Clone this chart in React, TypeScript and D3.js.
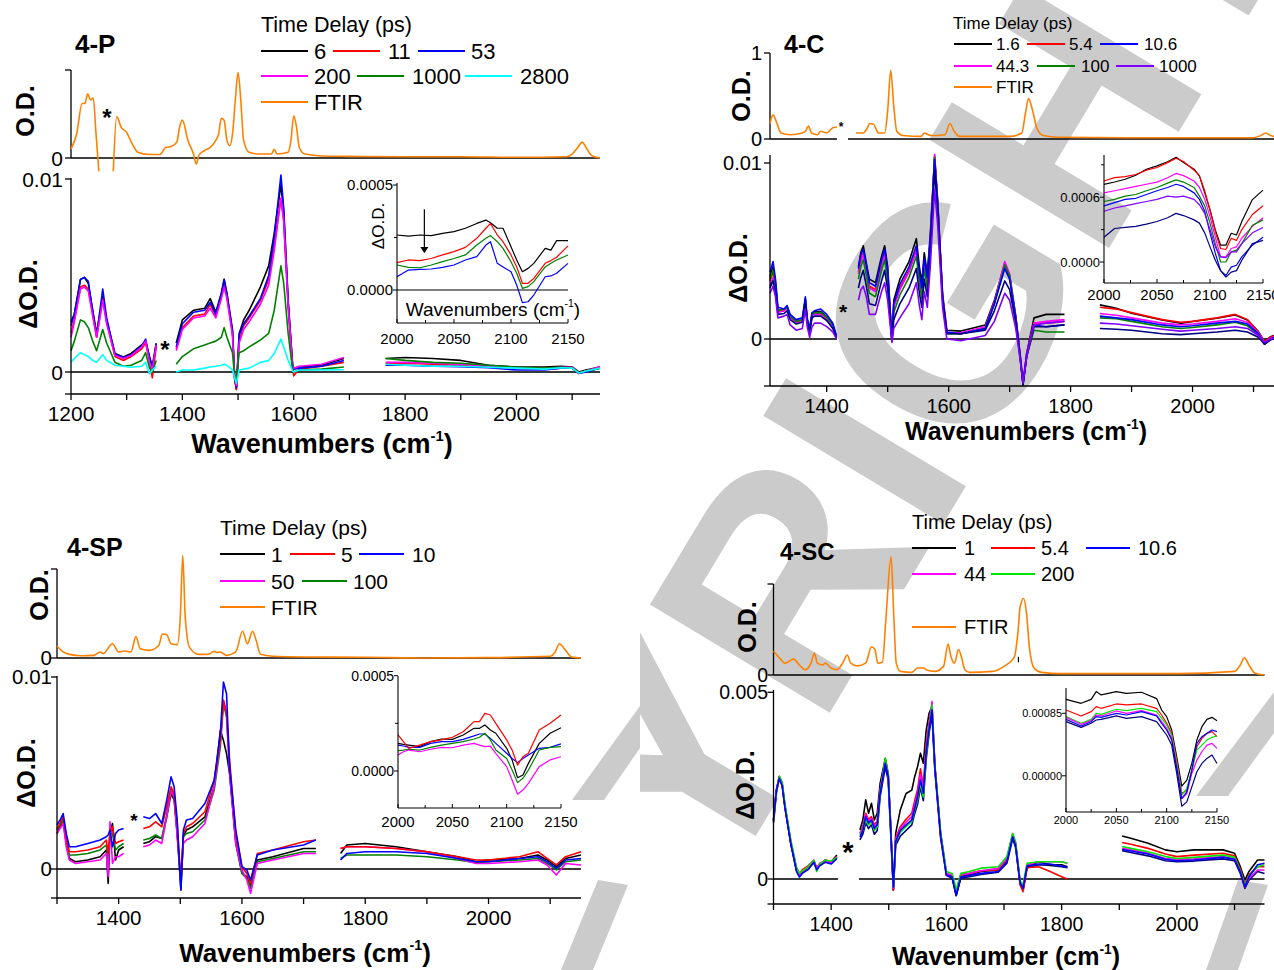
import React from "react";
import * as d3 from "d3";

const SANS = "'Liberation Sans', Arial, Helvetica, sans-serif";
const BLACK = "#000000";
const RED = "#ff0000";
const BLUE = "#0000ff";
const MAGENTA = "#ff00ff";
const GREEN = "#008000";
const LIME = "#00e600";
const CYAN = "#00ffff";
const PURPLE = "#8000ff";
const NAVY = "#000080";
const ORANGE = "#ff8000";
const WM_GRAY = "#cbcbcb";

// ---------------- 4-P ----------------
// FTIR (O.D., scaled to the top tick)
const P_FTIR_X1 = [1200, 1210, 1220, 1225, 1230, 1235, 1240, 1245, 1250];
const P_FTIR_Y1 = [0.1, 0.27, 0.62, 0.62, 0.73, 0.66, 0.68, 0.27, -0.15];
const P_FTIR_X2 = [1276, 1282, 1290, 1300, 1310, 1320, 1340, 1360, 1370, 1380, 1390, 1395, 1400, 1410, 1420, 1425, 1430, 1440, 1450, 1460, 1465, 1470, 1475, 1480, 1485, 1490, 1495, 1500, 1505, 1510, 1520, 1540, 1560, 1565, 1570, 1590, 1595, 1600, 1605, 1610, 1620, 1650, 1700, 1800, 1900, 2000, 2090, 2100, 2110, 2118, 2125, 2135, 2150];
const P_FTIR_Y2 = [-0.15, 0.47, 0.35, 0.29, 0.16, 0.065, 0.04, 0.04, 0.12, 0.13, 0.18, 0.35, 0.43, 0.2, 0.045, -0.07, 0.035, 0.085, 0.12, 0.2, 0.27, 0.45, 0.43, 0.2, 0.14, 0.27, 0.65, 0.97, 0.65, 0.2, 0.065, 0.045, 0.045, 0.1, 0.045, 0.065, 0.2, 0.48, 0.35, 0.12, 0.045, 0.023, 0.019, 0.015, 0.015, 0.008, 0.015, 0.045, 0.12, 0.18, 0.12, 0.027, 0.0];

// transient spectra (mOD)
const P_X1 = [1200, 1206, 1217, 1224, 1231, 1239, 1246, 1257, 1264, 1279, 1294, 1308, 1327, 1334, 1341, 1346, 1353];
const P_X2 = [1389, 1400, 1420, 1440, 1450, 1460, 1470, 1475, 1480, 1490, 1494, 1497, 1502, 1510, 1520, 1540, 1555, 1565, 1577, 1582, 1590, 1598, 1600, 1610, 1650, 1690];
const P_X3 = [1765, 1800, 1850, 1900, 1950, 2000, 2050, 2080, 2100, 2112, 2125, 2150];

const P_6_A = [2.6, 3.0, 4.8, 4.9, 4.6, 3.2, 2.0, 3.9, 2.7, 0.96, 0.78, 0.96, 1.4, 1.6, 0.8, 0.3, 1.5];
const P_6_B = [1.5, 2.7, 3.2, 3.3, 3.8, 3.1, 4.1, 4.8, 4.1, 2.2, -0.4, -0.9, 2.0, 2.7, 3.2, 4.4, 5.5, 7.2, 9.7, 8.3, 3.7, 0.4, 0.2, 0.26, 0.35, 0.7];
const P_6_C = [0.7, 0.75, 0.7, 0.6, 0.35, 0.26, 0.26, 0.3, 0.26, 0.0, 0.1, 0.26];
const P_11_A = [2.0, 2.7, 4.4, 4.5, 4.3, 3.0, 1.8, 3.8, 2.6, 0.8, 0.6, 0.8, 1.2, 1.5, 0.6, -0.3, 1.3];
const P_11_B = [1.2, 2.3, 2.9, 3.0, 3.5, 2.9, 3.9, 4.6, 3.9, 2.0, -0.4, -0.9, 1.6, 2.4, 2.8, 3.7, 4.8, 6.6, 9.0, 7.8, 3.4, 0.2, -0.2, 0.15, 0.3, 0.5];
const P_11_C = [0.45, 0.45, 0.4, 0.35, 0.3, 0.2, 0.15, 0.2, 0.22, -0.05, 0.05, 0.25];
const P_53_A = [2.4, 3.0, 4.8, 4.9, 4.7, 3.1, 1.9, 4.3, 2.8, 0.9, 0.75, 0.9, 1.35, 1.7, 0.7, 0.2, 1.45];
const P_53_B = [1.3, 2.5, 3.1, 3.2, 3.6, 3.0, 4.0, 4.8, 4.0, 2.1, -0.3, -0.8, 1.9, 2.5, 2.9, 3.8, 5.0, 7.0, 10.2, 8.5, 3.6, 0.3, 0.15, 0.2, 0.3, 0.6];
const P_53_C = [0.35, 0.35, 0.3, 0.28, 0.22, 0.1, 0.1, 0.2, 0.2, -0.08, 0.0, 0.2];
const P_200_A = [1.8, 2.6, 4.3, 4.4, 4.2, 2.9, 1.8, 3.7, 2.5, 0.85, 0.7, 0.85, 1.3, 1.6, 0.5, 0.1, 1.4];
const P_200_B = [1.1, 2.2, 2.8, 2.9, 3.3, 2.8, 3.8, 4.4, 3.8, 1.9, -0.3, -0.7, 1.5, 2.2, 2.6, 3.5, 4.5, 6.3, 9.0, 7.9, 3.4, 0.3, 0.2, 0.3, 0.4, 0.75];
const P_200_C = [0.5, 0.5, 0.45, 0.4, 0.3, 0.22, 0.18, 0.25, 0.25, -0.05, 0.05, 0.28];
const P_1000_A = [1.1, 1.6, 2.7, 2.6, 2.3, 1.6, 1.1, 2.2, 1.5, 0.5, 0.3, 0.35, 0.6, 1.0, 0.2, 0.0, 0.6];
const P_1000_B = [0.4, 0.8, 1.2, 1.4, 1.5, 1.6, 1.8, 2.3, 1.8, 1.0, -0.3, -0.4, 1.0, 1.1, 1.3, 1.65, 2.0, 3.2, 5.5, 4.6, 2.0, 0.1, 0.0, 0.1, 0.15, 0.26];
const P_1000_C = [0.7, 0.6, 0.5, 0.45, 0.35, 0.25, 0.2, 0.25, 0.2, -0.05, 0.05, 0.2];
const P_2800_A = [0.5, 0.7, 1.0, 0.9, 0.8, 0.6, 0.5, 0.9, 0.6, 0.35, 0.3, 0.25, 0.3, 0.5, -0.1, 0.1, 0.3];
const P_2800_B = [0.0, 0.1, 0.1, 0.2, 0.26, 0.3, 0.35, 0.4, 0.35, 0.1, -0.3, -0.6, 0.1, 0.15, 0.2, 0.5, 0.6, 0.96, 1.7, 1.3, 0.6, 0.05, 0.0, 0.1, 0.1, 0.12];
const P_2800_C = [0.4, 0.35, 0.3, 0.3, 0.25, 0.2, 0.15, 0.22, 0.2, -0.05, 0.05, 0.2];

// inset (1e-4 O.D.)
const P_IN_X = [2000, 2010, 2020, 2030, 2040, 2050, 2060, 2070, 2078, 2082, 2088, 2093, 2100, 2105, 2110, 2115, 2120, 2130, 2135, 2140, 2150];
const P_IN_6 = [2.62, 2.57, 2.62, 2.59, 2.7, 2.78, 2.94, 3.17, 3.33, 3.2, 2.94, 2.94, 2.06, 1.43, 0.87, 1.03, 1.27, 1.98, 1.9, 2.35, 2.35];
const P_IN_11 = [1.3, 1.43, 1.4, 1.5, 1.67, 1.83, 2.03, 2.46, 2.94, 3.17, 2.62, 2.3, 1.67, 1.1, 0.32, 0.32, 0.55, 1.27, 1.4, 1.56, 2.1];
const P_IN_1000 = [1.19, 1.08, 1.06, 1.19, 1.35, 1.5, 1.67, 2.14, 2.46, 2.59, 2.3, 1.98, 1.35, 0.8, 0.08, 0.16, 0.4, 1.1, 1.27, 1.43, 1.67];
const P_IN_53 = [0.63, 0.95, 0.98, 1.0, 1.08, 1.19, 1.43, 1.59, 2.14, 2.3, 1.27, 1.1, 0.87, 0.24, -0.6, -0.56, -0.24, 0.63, 0.67, 0.8, 1.27];

// ---------------- 4-C ----------------
const C_FTIR_X1 = [1307, 1312, 1318, 1325, 1340, 1360, 1366, 1370, 1375, 1385, 1390, 1400, 1410, 1417];
const C_FTIR_Y1 = [0.18, 0.28, 0.19, 0.07, 0.05, 0.07, 0.1, 0.15, 0.07, 0.05, 0.09, 0.07, 0.13, 0.14];
const C_FTIR_X2 = [1448, 1460, 1466, 1471, 1477, 1485, 1495, 1500, 1505, 1510, 1515, 1525, 1555, 1560, 1570, 1594, 1602, 1609, 1618, 1700, 1720, 1726, 1731, 1737, 1745, 1755, 1780, 1900, 2100, 2112, 2120, 2128, 2150];
const C_FTIR_Y2 = [0.07, 0.07, 0.12, 0.18, 0.17, 0.07, 0.07, 0.33, 0.8, 0.38, 0.09, 0.04, 0.03, 0.07, 0.04, 0.05, 0.18, 0.09, 0.03, 0.03, 0.07, 0.3, 0.47, 0.35, 0.12, 0.04, 0.02, 0.015, 0.015, 0.04, 0.07, 0.04, 0.01];

const C_X1 = [1307, 1312, 1316, 1320, 1330, 1335, 1340, 1350, 1360, 1365, 1368, 1372, 1376, 1380, 1390, 1400, 1410, 1416];
const C_X2 = [1452, 1456, 1460, 1465, 1470, 1480, 1490, 1495, 1500, 1507, 1510, 1520, 1535, 1547, 1552, 1556, 1560, 1565, 1570, 1577, 1582, 1590, 1597, 1620, 1660, 1675, 1692, 1700, 1710, 1717, 1722, 1728, 1740, 1760, 1790];
const C_X3 = [1848, 1875, 1900, 1950, 1980, 2000, 2040, 2070, 2090, 2108, 2118, 2128, 2150];

const C_1_6_A = [3.55, 4.12, 3.17, 1.65, 1.65, 1.84, 1.27, 0.99, 1.08, 2.22, 1.08, 0.51, 1.46, 1.56, 1.56, 1.27, 0.8, 0.13];
const C_1_6_B = [4.1, 4.9, 5.3, 4.3, 3.4, 3.2, 4.7, 5.3, 4.1, -0.1, 2.2, 3.4, 4.4, 5.7, 4.1, 3.2, 4.9, 3.7, 6.0, 10.4, 7.9, 2.6, 0.5, 0.45, 0.8, 2.2, 4.3, 3.6, 1.3, -0.8, -2.5, -0.8, 1.2, 1.4, 1.4];
const C_1_6_C = [1.94, 1.75, 1.46, 1.08, 0.89, 0.99, 1.18, 1.37, 1.08, 0.42, -0.15, 0.13, 0.42];
const C_5_4_A = [3.3, 3.8, 3.0, 1.6, 1.6, 1.8, 1.2, 0.95, 1.05, 2.1, 1.0, 0.5, 1.35, 1.45, 1.45, 1.2, 0.75, 0.1];
const C_5_4_B = [3.8, 4.5, 4.9, 4.0, 3.0, 2.8, 4.3, 4.9, 3.7, -0.1, 1.9, 2.9, 3.9, 5.1, 3.6, 2.7, 4.4, 3.3, 5.6, 10.2, 7.6, 2.4, 0.35, 0.3, 0.6, 2.0, 4.2, 3.5, 1.2, -0.9, -2.5, -0.9, 0.9, 0.9, 1.0];
const C_5_4_C = [1.8, 1.7, 1.5, 1.1, 0.95, 1.0, 1.2, 1.4, 1.1, 0.4, -0.15, 0.1, 0.4];
const C_10_6_A = [3.8, 4.4, 3.4, 1.8, 1.7, 1.9, 1.4, 1.1, 1.2, 2.4, 1.2, 0.6, 1.5, 1.6, 1.7, 1.4, 0.9, 0.2];
const C_10_6_B = [4.0, 4.8, 5.1, 4.2, 3.2, 3.0, 4.5, 5.1, 3.9, -0.1, 2.0, 3.1, 4.1, 5.3, 3.8, 2.9, 4.6, 3.5, 5.8, 10.2, 7.7, 2.4, 0.4, 0.3, 0.6, 2.0, 4.0, 3.4, 1.2, -0.9, -2.6, -0.9, 0.8, 0.7, 0.8];
const C_10_6_C = [1.3, 1.2, 1.1, 0.8, 0.7, 0.75, 0.9, 1.0, 0.85, 0.3, -0.3, 0.0, 0.3];
const C_44_A = [3.0, 3.5, 2.8, 1.5, 1.6, 1.75, 1.2, 0.9, 1.0, 2.2, 1.0, 0.45, 1.3, 1.4, 1.4, 1.1, 0.7, 0.1];
const C_44_B = [3.7, 4.4, 4.8, 3.9, 2.9, 2.7, 4.2, 4.8, 3.6, -0.1, 1.8, 2.8, 3.8, 5.0, 3.5, 2.6, 4.3, 3.2, 5.5, 10.5, 7.7, 2.4, 0.35, 0.35, 0.7, 2.1, 4.4, 3.7, 1.3, -0.8, -2.5, -0.8, 0.9, 1.0, 1.1];
const C_44_C = [1.45, 1.35, 1.2, 0.9, 0.8, 0.85, 1.0, 1.15, 0.95, 0.35, -0.2, 0.05, 0.35];
const C_100_A = [3.4, 3.9, 3.1, 1.6, 1.7, 1.8, 1.3, 1.0, 1.1, 2.3, 1.1, 0.55, 1.4, 1.5, 1.5, 1.25, 0.8, 0.15];
const C_100_B = [3.4, 4.1, 4.5, 3.6, 2.6, 2.4, 3.9, 4.5, 3.3, -0.1, 1.5, 2.5, 3.5, 4.7, 3.2, 2.3, 4.0, 2.9, 5.3, 10.3, 7.6, 2.3, 0.3, 0.3, 0.6, 2.0, 4.2, 3.6, 1.2, -0.9, -2.6, -1.0, 0.5, 0.4, 0.4];
const C_100_C = [1.2, 1.15, 1.0, 0.7, 0.6, 0.65, 0.8, 0.95, 0.75, 0.25, -0.25, 0.0, 0.25];
const C_1000_A = [2.6, 3.0, 2.4, 1.2, 1.3, 1.4, 0.8, 0.5, 0.6, 1.7, 0.7, 0.1, 0.7, 0.9, 0.9, 0.7, 0.4, 0.0];
const C_1000_B = [2.2, 2.8, 3.0, 2.4, 1.4, 1.4, 2.7, 3.2, 2.2, -0.2, 0.6, 1.2, 2.0, 3.2, 1.9, 1.1, 2.7, 1.8, 4.2, 8.5, 6.5, 1.8, 0.0, -0.1, 0.2, 1.0, 2.6, 2.2, 0.6, -1.1, -2.5, -1.0, 0.8, 0.9, 1.0];
const C_1000_C = [0.9, 0.85, 0.75, 0.55, 0.45, 0.5, 0.6, 0.7, 0.6, 0.2, -0.2, 0.0, 0.2];
const C_NAVY_A = [2.9, 3.3, 2.6, 1.4, 1.45, 1.6, 1.1, 0.85, 0.95, 2.0, 0.95, 0.4, 1.2, 1.3, 1.3, 1.05, 0.6, 0.05];
const C_NAVY_B = [2.9, 3.5, 3.9, 3.0, 2.0, 1.9, 3.3, 3.9, 2.8, -0.1, 1.1, 2.0, 2.9, 4.0, 2.6, 1.8, 3.4, 2.4, 4.8, 9.6, 7.2, 2.2, 0.3, 0.3, 0.5, 1.6, 3.3, 2.8, 0.9, -1.0, -2.6, -1.0, 0.7, 0.7, 0.8];
const C_NAVY_C = [0.6, 0.55, 0.5, 0.3, 0.25, 0.3, 0.4, 0.5, 0.4, 0.1, -0.3, -0.05, 0.15];

const C_IN_X = [2000, 2010, 2020, 2030, 2040, 2050, 2060, 2068, 2075, 2085, 2090, 2095, 2100, 2105, 2110, 2115, 2120, 2125, 2130, 2140, 2150];
const C_IN_1_6 = [7.19, 7.41, 7.66, 8.03, 8.59, 8.9, 9.28, 9.69, 9.22, 8.59, 7.97, 6.4, 4.84, 2.97, 1.56, 1.56, 2.66, 2.5, 3.75, 5.78, 6.66];
const C_IN_5_4 = [7.5, 7.81, 7.9, 8.1, 8.5, 8.75, 9.2, 9.6, 9.3, 8.5, 8.0, 6.6, 4.8, 2.8, 1.25, 1.16, 2.2, 2.0, 3.0, 4.4, 5.2];
const C_IN_44 = [6.4, 6.6, 6.8, 7.0, 7.2, 7.4, 7.8, 8.2, 8.0, 7.5, 6.9, 5.8, 4.2, 2.3, 0.47, 0.47, 1.25, 1.4, 2.2, 3.3, 4.1];
const C_IN_100 = [5.6, 5.8, 6.1, 6.25, 6.6, 6.9, 7.3, 7.6, 7.4, 6.9, 6.1, 5.2, 3.6, 1.7, 0, 0, 0.94, 1.1, 1.7, 3.4, 3.9];
const C_IN_10_6 = [5.2, 5.5, 5.8, 5.9, 6.25, 6.6, 6.9, 7.2, 7.0, 6.4, 5.8, 4.7, 2.7, 0.8, -0.8, -1.25, -0.47, -0.3, 0.47, 1.56, 2.3];
const C_IN_1000 = [4.7, 5.0, 5.2, 5.4, 5.6, 5.8, 6.1, 6.0, 6.1, 5.8, 5.3, 4.5, 3.0, 1.4, 0.47, 0.4, 0.94, 0.94, 1.7, 2.7, 3.2];
const C_IN_NAVY = [2.3, 3.1, 3.2, 3.3, 3.5, 3.75, 4.1, 4.5, 4.3, 3.9, 3.6, 2.7, 1.4, 0.16, -0.8, -1.4, -0.94, -0.8, 0.16, 1.7, 2.0];

// ---------------- 4-SP ----------------
const SP_FTIR_X = [1300, 1310, 1320, 1340, 1360, 1370, 1375, 1390, 1400, 1410, 1420, 1428, 1435, 1450, 1465, 1471, 1478, 1485, 1495, 1500, 1504, 1508, 1515, 1530, 1545, 1555, 1560, 1565, 1575, 1590, 1601, 1609, 1617, 1623, 1630, 1650, 1700, 1800, 1900, 2000, 2100, 2108, 2115, 2125, 2135, 2150];
const SP_FTIR_Y = [0.135, 0.068, 0.041, 0.026, 0.03, 0.068, 0.05, 0.16, 0.068, 0.079, 0.068, 0.24, 0.105, 0.086, 0.14, 0.27, 0.26, 0.16, 0.15, 0.46, 1.15, 0.46, 0.12, 0.041, 0.041, 0.075, 0.06, 0.068, 0.03, 0.068, 0.3, 0.16, 0.3, 0.2, 0.041, 0.019, 0.011, 0.008, 0.0, 0.004, 0.019, 0.068, 0.16, 0.086, 0.011, 0.0];

const SP_X1 = [1300, 1305, 1310, 1315, 1320, 1330, 1350, 1370, 1380, 1383, 1386, 1390, 1395, 1400, 1408];
const SP_X2 = [1440, 1450, 1460, 1470, 1478, 1485, 1490, 1495, 1501, 1505, 1510, 1520, 1540, 1555, 1565, 1570, 1575, 1580, 1590, 1600, 1608, 1614, 1625, 1650, 1700, 1720];
const SP_X3 = [1760, 1770, 1800, 1850, 1900, 1950, 1980, 2000, 2050, 2080, 2095, 2110, 2125, 2150];

const SP_1_A = [1.85, 2.2, 2.55, 1.33, 0.55, 0.38, 0.47, 0.64, 0.99, -0.75, 1.85, 2.37, 0.47, 0.99, 1.16];
const SP_1_B = [1.33, 1.42, 1.68, 1.59, 2.72, 3.93, 3.59, 1.85, -1.09, 1.68, 2.03, 2.2, 2.72, 4.28, 7.23, 6.7, 6.01, 4.97, 1.33, -0.23, -0.4, -0.92, 0.47, 0.64, 1.07, 1.07];
const SP_1_C = [0.81, 1.25, 1.33, 1.16, 0.9, 0.64, 0.38, 0.47, 0.55, 0.73, 0.47, 0.12, 0.55, 0.73];
const SP_5_A = [2.11, 2.37, 2.72, 1.68, 0.9, 0.9, 0.99, 1.16, 1.51, 0.81, 1.85, 2.2, 1.33, 1.42, 1.51];
const SP_5_B = [2.11, 2.2, 2.46, 2.2, 3.24, 4.28, 3.93, 2.29, -0.75, 1.85, 2.2, 2.37, 2.98, 4.63, 6.7, 8.79, 8.1, 5.67, 1.85, 0.12, -0.23, -0.75, 0.81, 0.99, 1.42, 1.51];
const SP_5_C = [1.07, 1.16, 1.16, 1.07, 0.9, 0.64, 0.47, 0.47, 0.64, 0.9, 0.55, 0.21, 0.64, 0.9];
const SP_10_A = [2.29, 2.55, 2.89, 1.85, 1.16, 1.16, 1.33, 1.51, 1.68, 1.77, 2.03, 1.16, 1.85, 2.03, 2.11];
const SP_10_B = [2.72, 2.63, 2.89, 2.37, 3.59, 4.8, 4.28, 2.55, -1.09, 2.03, 2.55, 2.63, 3.41, 4.63, 7.05, 9.74, 9.13, 5.32, 2.03, 0.12, -0.05, -0.57, 0.73, 0.99, 1.25, 1.51];
const SP_10_C = [0.47, 0.81, 0.9, 0.9, 0.81, 0.55, 0.38, 0.38, 0.55, 0.64, 0.38, 0.03, 0.47, 0.55];
const SP_50_A = [1.85, 2.11, 2.37, 1.16, 0.47, 0.29, 0.38, 0.47, 0.81, -0.4, 2.46, 0.29, 0.64, 0.64, 0.81];
const SP_50_B = [1.16, 1.25, 1.51, 1.33, 2.72, 4.11, 3.76, 1.68, -0.57, 1.33, 1.51, 1.68, 2.37, 4.28, 6.7, 8.79, 8.1, 4.97, 1.33, -0.05, -0.57, -1.27, 0.29, 0.47, 0.81, 0.81];
const SP_50_C = [1.07, 1.16, 1.16, 1.07, 0.9, 0.55, 0.29, 0.29, 0.38, 0.47, 0.21, -0.31, 0.29, 0.21];
const SP_100_A = [2.03, 2.29, 2.55, 1.51, 0.73, 0.73, 0.81, 0.99, 1.25, 0.47, 1.85, 1.85, 0.99, 1.16, 1.33];
const SP_100_B = [1.51, 1.59, 1.77, 1.59, 2.8, 4.19, 3.85, 1.85, -0.83, 1.68, 1.85, 1.94, 2.55, 4.11, 6.36, 8.61, 7.92, 5.15, 1.51, -0.23, -0.49, -1.0, 0.38, 0.55, 0.9, 0.9];
const SP_100_C = [0.55, 0.73, 0.73, 0.73, 0.64, 0.47, 0.33, 0.38, 0.47, 0.55, 0.29, -0.05, 0.38, 0.47];

const SP_IN_X = [2000, 2005, 2010, 2020, 2030, 2040, 2050, 2060, 2070, 2075, 2080, 2085, 2090, 2100, 2105, 2110, 2115, 2120, 2130, 2140, 2150];
const SP_IN_5 = [1.89, 1.54, 1.19, 1.36, 1.54, 1.63, 1.77, 2.06, 2.59, 2.59, 3.02, 2.94, 2.5, 1.63, 1.1, 0.31, 0.75, 0.93, 2.15, 2.5, 2.94];
const SP_IN_1 = [1.45, 1.4, 1.36, 1.28, 1.54, 1.68, 1.66, 1.89, 2.24, 2.24, 2.41, 2.15, 1.98, 1.19, 0.58, -0.35, -0.21, 0.4, 1.45, 1.98, 2.27];
const SP_IN_10 = [1.36, 1.31, 1.24, 1.24, 1.45, 1.54, 1.54, 1.66, 1.84, 1.94, 1.94, 1.71, 1.45, 0.93, 0.66, 0.44, 0.66, 0.84, 1.19, 1.24, 1.42];
const SP_IN_100 = [1.07, 1.1, 1.14, 1.1, 1.24, 1.36, 1.45, 1.54, 1.68, 1.77, 1.98, 1.63, 1.1, 0.66, 0.05, -0.61, -0.38, 0.05, 1.1, 1.24, 1.28];
const SP_IN_50 = [0.84, 1.01, 1.1, 1.01, 1.14, 1.24, 1.22, 1.36, 1.45, 1.36, 1.28, 1.31, 0.93, 0.23, -0.47, -1.22, -1.0, -0.65, 0.23, 0.58, 0.75];

// ---------------- 4-SC ----------------
const SC_FTIR_X = [1300, 1310, 1320, 1335, 1345, 1355, 1365, 1371, 1376, 1385, 1390, 1400, 1410, 1420, 1428, 1434, 1445, 1460, 1470, 1476, 1481, 1489, 1495, 1504, 1509, 1513, 1520, 1540, 1550, 1560, 1565, 1580, 1595, 1603, 1608, 1614, 1621, 1626, 1632, 1640, 1680, 1700, 1718, 1724, 1728, 1734, 1739, 1744, 1752, 1765, 1800, 2000, 2100, 2110, 2117, 2125, 2135, 2152];
const SC_FTIR_Y = [0.26, 0.19, 0.13, 0.175, 0.11, 0.058, 0.13, 0.24, 0.13, 0.11, 0.13, 0.077, 0.058, 0.13, 0.22, 0.13, 0.1, 0.13, 0.31, 0.28, 0.13, 0.14, 0.61, 1.3, 0.61, 0.13, 0.04, 0.029, 0.077, 0.077, 0.058, 0.04, 0.095, 0.34, 0.2, 0.13, 0.28, 0.2, 0.058, 0.029, 0.04, 0.095, 0.2, 0.46, 0.75, 0.84, 0.68, 0.31, 0.077, 0.029, 0.015, 0.015, 0.04, 0.11, 0.19, 0.11, 0.022, 0.0];

const SC_X1 = [1300, 1305, 1310, 1315, 1320, 1330, 1340, 1345, 1350, 1360, 1370, 1375, 1380, 1390, 1400, 1410];
const SC_X2 = [1450, 1455, 1460, 1465, 1470, 1475, 1480, 1485, 1494, 1499, 1503, 1508, 1512, 1520, 1530, 1540, 1545, 1550, 1555, 1560, 1565, 1570, 1575, 1580, 1590, 1600, 1610, 1617, 1625, 1640, 1660, 1690, 1705, 1715, 1720, 1728, 1733, 1740, 1760, 1780, 1800, 1810];
const SC_X3 = [1905, 1920, 1950, 1980, 2000, 2030, 2080, 2100, 2110, 2118, 2125, 2140, 2152];

const SC_1_A = [1.58, 2.38, 2.74, 2.56, 1.94, 0.96, 0.24, 0.11, 0.2, 0.29, 0.46, 0.29, 0.38, 0.51, 0.46, 0.64];
const SC_1_B = [1.31, 1.58, 2.12, 1.76, 2.03, 1.58, 1.76, 2.56, 3.23, 2.83, 1.58, -0.29, 1.22, 1.85, 2.29, 2.38, 2.74, 3.01, 3.37, 3.1, 3.99, 4.44, 4.62, 3.01, 1.22, 0.15, 0.06, -0.43, 0.06, 0.11, 0.2, 0.24, 0.51, 1.18, 0.96, -0.12, -0.29, 0.33, 0.46, 0.38, 0.38, 0.33];
const SC_1_C = [1.15, 1.09, 0.96, 0.78, 0.73, 0.78, 0.78, 0.69, 0.33, -0.03, 0.2, 0.51, 0.51];
const SC_5_4_A = [1.6, 2.4, 2.75, 2.55, 1.95, 1.0, 0.3, 0.15, 0.25, 0.35, 0.5, 0.3, 0.4, 0.5, 0.45, 0.6];
const SC_5_4_B = [1.22, 1.4, 1.76, 1.6, 1.67, 1.45, 1.55, 2.4, 3.19, 2.8, 1.5, -0.3, 1.1, 1.4, 1.6, 1.76, 2.1, 2.4, 2.95, 2.5, 3.6, 4.2, 4.62, 3.0, 1.2, 0.15, 0.1, -0.38, 0.1, 0.15, 0.22, 0.24, 0.5, 1.18, 0.95, -0.15, -0.34, 0.3, 0.33, 0.2, 0.06, 0.0];
const SC_5_4_C = [0.98, 0.93, 0.82, 0.67, 0.6, 0.64, 0.69, 0.62, 0.26, -0.12, 0.11, 0.33, 0.33];
const SC_10_6_A = [1.55, 2.35, 2.7, 2.5, 1.9, 0.95, 0.2, 0.05, 0.15, 0.25, 0.45, 0.25, 0.35, 0.45, 0.4, 0.55];
const SC_10_6_B = [1.13, 1.3, 1.67, 1.5, 1.58, 1.35, 1.45, 2.3, 3.1, 2.75, 1.45, -0.21, 1.0, 1.3, 1.45, 1.58, 1.9, 2.2, 2.65, 2.3, 3.4, 4.0, 4.53, 3.0, 1.15, 0.1, 0.05, -0.43, 0.05, 0.1, 0.15, 0.2, 0.46, 1.13, 0.9, -0.1, -0.25, 0.35, 0.4, 0.4, 0.35, 0.33];
const SC_10_6_C = [0.79, 0.75, 0.67, 0.53, 0.49, 0.51, 0.58, 0.53, 0.19, -0.21, 0.06, 0.38, 0.42];
const SC_44_A = [1.5, 2.3, 2.7, 2.55, 1.95, 1.0, 0.25, 0.1, 0.2, 0.3, 0.5, 0.28, 0.42, 0.48, 0.44, 0.6];
const SC_44_B = [1.22, 1.35, 1.72, 1.55, 1.62, 1.4, 1.5, 2.35, 3.15, 2.78, 1.48, -0.25, 1.05, 1.35, 1.52, 1.67, 2.0, 2.3, 2.8, 2.4, 3.5, 4.1, 4.75, 3.05, 1.2, 0.15, 0.1, -0.38, 0.12, 0.15, 0.22, 0.29, 0.55, 1.22, 0.96, -0.1, -0.21, 0.38, 0.46, 0.46, 0.46, 0.42];
const SC_44_C = [0.82, 0.78, 0.69, 0.55, 0.53, 0.54, 0.6, 0.54, 0.2, -0.21, 0.02, 0.24, 0.24];
const SC_200_A = [1.5, 2.3, 2.75, 2.6, 2.0, 1.05, 0.3, 0.15, 0.22, 0.32, 0.5, 0.2, 0.4, 0.5, 0.48, 0.58];
const SC_200_B = [1.18, 1.3, 1.58, 1.45, 1.54, 1.3, 1.4, 2.3, 3.23, 2.8, 1.45, -0.21, 1.0, 1.25, 1.4, 1.54, 1.85, 2.12, 2.56, 2.2, 3.3, 4.0, 4.66, 3.05, 1.25, 0.2, 0.15, -0.29, 0.15, 0.2, 0.29, 0.33, 0.6, 1.22, 1.0, -0.05, -0.16, 0.42, 0.46, 0.46, 0.46, 0.42];
const SC_200_C = [0.87, 0.82, 0.73, 0.6, 0.55, 0.58, 0.64, 0.58, 0.22, -0.16, 0.08, 0.33, 0.38];
const SC_NAVY_A = [1.55, 2.35, 2.7, 2.5, 1.9, 0.95, 0.22, 0.08, 0.18, 0.27, 0.44, 0.26, 0.36, 0.46, 0.42, 0.56];
const SC_NAVY_B = [1.05, 1.2, 1.5, 1.35, 1.45, 1.2, 1.3, 2.2, 3.0, 2.65, 1.35, -0.3, 0.9, 1.15, 1.3, 1.45, 1.75, 2.0, 2.45, 2.1, 3.2, 3.9, 4.4, 2.9, 1.1, 0.1, 0.02, -0.45, 0.02, 0.06, 0.12, 0.18, 0.42, 1.08, 0.85, -0.15, -0.3, 0.3, 0.38, 0.36, 0.33, 0.3];
const SC_NAVY_C = [0.76, 0.71, 0.62, 0.49, 0.46, 0.48, 0.54, 0.49, 0.15, -0.25, -0.03, 0.2, 0.15];

const SC_IN_X = [2000, 2015, 2025, 2030, 2035, 2050, 2060, 2075, 2090, 2095, 2100, 2105, 2110, 2115, 2120, 2125, 2130, 2135, 2140, 2145, 2150];
const SC_IN_1 = [10.4, 9.86, 10.4, 11.45, 11.0, 11.45, 11.2, 11.36, 10.5, 8.95, 8.05, 6.23, 2.59, -1.41, -0.59, 1.68, 4.86, 6.68, 7.68, 7.95, 7.5];
const SC_IN_5_4 = [8.95, 8.14, 8.73, 9.41, 9.18, 9.77, 9.64, 9.77, 9.18, 8.27, 7.14, 5.77, 2.14, -2.41, -1.95, 0.77, 3.95, 5.09, 5.77, 6.0, 5.32];
const SC_IN_200 = [8.05, 7.14, 7.68, 8.5, 8.36, 9.05, 8.86, 9.18, 8.73, 7.82, 6.91, 5.55, 1.68, -2.64, -1.73, 0.77, 3.5, 4.18, 4.86, 5.23, 5.41];
const SC_IN_44 = [7.95, 7.0, 7.5, 8.27, 8.14, 8.82, 8.5, 8.86, 8.27, 7.36, 6.45, 5.09, 1.23, -3.09, -2.41, 0.32, 2.14, 3.27, 4.18, 4.41, 3.73];
const SC_IN_10_6 = [7.68, 6.77, 7.36, 8.05, 7.95, 8.5, 8.27, 8.73, 8.14, 7.14, 6.23, 4.86, 1.0, -3.09, -2.18, 0.77, 4.41, 5.32, 5.77, 6.23, 6.0];
const SC_IN_NAVY = [7.36, 6.59, 7.14, 7.59, 7.68, 8.14, 7.82, 8.05, 7.36, 6.45, 5.55, 4.18, 0.32, -4.14, -3.55, -1.5, 0.55, 1.68, 2.36, 2.82, 1.68];

const WATERMARK = "COPYRIGHT";

// ---------------- panel set-up ----------------
const PANELS = [
  {
    key: "P",
    xDomain: [1200, 2150], xRange: [71, 600], xEnd: 600,
    xTicks: d3.range(1200, 2101, 100), xLabels: [1200, 1400, 1600, 1800, 2000],
    ftirTop: 70, ftirZero: 158, ftirTopLabel: null, ftirGap: null,
    ftir: [[P_FTIR_X1, P_FTIR_Y1], [P_FTIR_X2, P_FTIR_Y2]],
    mainTopVal: 10, mainTop: 179, mainZero: 372, axisTop: 178, axisBottom: 394, mainTopLabel: "0.01", zeroGap: null,
    yLabelX: 63, tickFont: 21,
    series: [
      { c: BLACK, s: [[P_X1, P_6_A], [P_X2, P_6_B], [P_X3, P_6_C]] },
      { c: RED, s: [[P_X1, P_11_A], [P_X2, P_11_B], [P_X3, P_11_C]] },
      { c: BLUE, s: [[P_X1, P_53_A], [P_X2, P_53_B], [P_X3, P_53_C]] },
      { c: MAGENTA, s: [[P_X1, P_200_A], [P_X2, P_200_B], [P_X3, P_200_C]] },
      { c: GREEN, s: [[P_X1, P_1000_A], [P_X2, P_1000_B], [P_X3, P_1000_C]] },
      { c: CYAN, s: [[P_X1, P_2800_A], [P_X2, P_2800_B], [P_X3, P_2800_C]] },
    ],
    title: { t: "4-P", x: 75, y: 53, size: 26 },
    odLabel: { x: 34, y: 111 }, dodLabel: { x: 37, y: 294 },
    xTitle: { t: "Wavenumbers", x: 322, y: 453, size: 27 },
    legendTitle: { x: 261, y: 32, size: 21.5 },
    legendFont: 22,
    legend: [
      { c: BLACK, x1: 261, x2: 308, tx: 314, y: 51, t: "6" },
      { c: RED, x1: 333, x2: 380, tx: 388, y: 51, t: "11" },
      { c: BLUE, x1: 418, x2: 465, tx: 471, y: 51, t: "53" },
      { c: MAGENTA, x1: 261, x2: 308, tx: 314, y: 76, t: "200" },
      { c: GREEN, x1: 357, x2: 404, tx: 412, y: 76, t: "1000" },
      { c: CYAN, x1: 465, x2: 512, tx: 520, y: 76, t: "2800" },
      { c: ORANGE, x1: 261, x2: 308, tx: 314, y: 102, t: "FTIR" },
    ],
    stars: [{ x: 107, y: 126, size: 24 }, { x: 165, y: 358, size: 24 }],
    inset: {
      x0: 397, x1: 568, top: 183, bottom: 323, dom: [0, 5], rng: [290, 185],
      labels: [[5, "0.0005"], [0, "0.0000"]], minor: [2.5], zeroLine: true,
      font: 15, yFont: 15, xlabY: 344,
      title: true,
      series: [
        { c: BLACK, x: P_IN_X, y: P_IN_6 },
        { c: RED, x: P_IN_X, y: P_IN_11 },
        { c: GREEN, x: P_IN_X, y: P_IN_1000 },
        { c: BLUE, x: P_IN_X, y: P_IN_53 },
      ],
    },
  },
  {
    key: "C",
    xDomain: [1307, 2150], xRange: [770, 1284], xEnd: 1284,
    xTicks: d3.range(1400, 2101, 100), xLabels: [1400, 1600, 1800, 2000],
    ftirTop: 53, ftirZero: 139, ftirTopLabel: "1", ftirGap: [837, 848],
    ftir: [[C_FTIR_X1, C_FTIR_Y1], [C_FTIR_X2, C_FTIR_Y2]],
    mainTopVal: 10, mainTop: 163, mainZero: 339, axisTop: 155, axisBottom: 386, mainTopLabel: "0.01", zeroGap: [837, 848],
    yLabelX: 762, tickFont: 20,
    series: [
      { c: BLACK, s: [[C_X1, C_1_6_A], [C_X2, C_1_6_B], [C_X3, C_1_6_C]] },
      { c: RED, s: [[C_X1, C_5_4_A], [C_X2, C_5_4_B], [C_X3, C_5_4_C]] },
      { c: MAGENTA, s: [[C_X1, C_44_A], [C_X2, C_44_B], [C_X3, C_44_C]] },
      { c: GREEN, s: [[C_X1, C_100_A], [C_X2, C_100_B], [C_X3, C_100_C]] },
      { c: BLUE, s: [[C_X1, C_10_6_A], [C_X2, C_10_6_B], [C_X3, C_10_6_C]] },
      { c: NAVY, s: [[C_X1, C_NAVY_A], [C_X2, C_NAVY_B], [C_X3, C_NAVY_C]] },
      { c: PURPLE, s: [[C_X1, C_1000_A], [C_X2, C_1000_B], [C_X3, C_1000_C]] },
    ],
    title: { t: "4-C", x: 784, y: 53, size: 25 },
    odLabel: { x: 750, y: 96 }, dodLabel: { x: 747, y: 268 },
    xTitle: { t: "Wavenumbers", x: 1026, y: 440, size: 25 },
    legendTitle: { x: 953, y: 29, size: 17 },
    legendFont: 17,
    legend: [
      { c: BLACK, x1: 954, x2: 992, tx: 996, y: 44, t: "1.6" },
      { c: RED, x1: 1027, x2: 1065, tx: 1069, y: 44, t: "5.4" },
      { c: BLUE, x1: 1100, x2: 1138, tx: 1144, y: 44, t: "10.6" },
      { c: MAGENTA, x1: 954, x2: 992, tx: 996, y: 66, t: "44.3" },
      { c: GREEN, x1: 1037, x2: 1075, tx: 1081, y: 66, t: "100" },
      { c: PURPLE, x1: 1116, x2: 1154, tx: 1159, y: 66, t: "1000" },
      { c: ORANGE, x1: 954, x2: 992, tx: 996, y: 87, t: "FTIR" },
    ],
    stars: [{ x: 841, y: 131, size: 12 }, { x: 843, y: 319, size: 21 }],
    inset: {
      x0: 1104, x1: 1263, top: 155, bottom: 283, dom: [0, 6], rng: [262, 197.2],
      labels: [[6, "0.0006"], [0, "0.0000"]], minor: [3, 9], zeroLine: false,
      font: 15, yFont: 13, xlabY: 300,
      title: false,
      series: [
        { c: BLACK, x: C_IN_X, y: C_IN_1_6 },
        { c: RED, x: C_IN_X, y: C_IN_5_4 },
        { c: MAGENTA, x: C_IN_X, y: C_IN_44 },
        { c: GREEN, x: C_IN_X, y: C_IN_100 },
        { c: BLUE, x: C_IN_X, y: C_IN_10_6 },
        { c: PURPLE, x: C_IN_X, y: C_IN_1000 },
        { c: NAVY, x: C_IN_X, y: C_IN_NAVY },
      ],
    },
  },
  {
    key: "SP",
    xDomain: [1300, 2150], xRange: [57, 581], xEnd: 581,
    xTicks: d3.range(1300, 2101, 100), xLabels: [1400, 1600, 1800, 2000],
    ftirTop: 569, ftirZero: 658, ftirTopLabel: null, ftirGap: null,
    ftir: [[SP_FTIR_X, SP_FTIR_Y]],
    mainTopVal: 10, mainTop: 677, mainZero: 869, axisTop: 676, axisBottom: 898, mainTopLabel: "0.01", zeroGap: null,
    yLabelX: 52, tickFont: 20.5,
    series: [
      { c: BLACK, s: [[SP_X1, SP_1_A], [SP_X2, SP_1_B], [SP_X3, SP_1_C]] },
      { c: GREEN, s: [[SP_X1, SP_100_A], [SP_X2, SP_100_B], [SP_X3, SP_100_C]] },
      { c: MAGENTA, s: [[SP_X1, SP_50_A], [SP_X2, SP_50_B], [SP_X3, SP_50_C]] },
      { c: RED, s: [[SP_X1, SP_5_A], [SP_X2, SP_5_B], [SP_X3, SP_5_C]] },
      { c: BLUE, s: [[SP_X1, SP_10_A], [SP_X2, SP_10_B], [SP_X3, SP_10_C]] },
    ],
    title: { t: "4-SP", x: 67, y: 556, size: 25 },
    odLabel: { x: 48, y: 595 }, dodLabel: { x: 35, y: 773 },
    xTitle: { t: "Wavenumbers", x: 305, y: 962, size: 26 },
    legendTitle: { x: 220, y: 535, size: 21 },
    legendFont: 21,
    legend: [
      { c: BLACK, x1: 220, x2: 265, tx: 271, y: 554, t: "1" },
      { c: RED, x1: 290, x2: 335, tx: 341, y: 554, t: "5" },
      { c: BLUE, x1: 359, x2: 404, tx: 412, y: 554, t: "10" },
      { c: MAGENTA, x1: 220, x2: 265, tx: 271, y: 581, t: "50" },
      { c: GREEN, x1: 302, x2: 347, tx: 353, y: 581, t: "100" },
      { c: ORANGE, x1: 220, x2: 265, tx: 271, y: 607, t: "FTIR" },
    ],
    stars: [{ x: 134, y: 827, size: 19 }],
    inset: {
      x0: 398, x1: 561, top: 676, bottom: 808, dom: [0, 5], rng: [771, 675.7],
      labels: [[5, "0.0005"], [0, "0.0000"]], minor: [2.5], zeroLine: false,
      font: 15, yFont: 14, xlabY: 827,
      title: false,
      series: [
        { c: BLACK, x: SP_IN_X, y: SP_IN_1 },
        { c: BLUE, x: SP_IN_X, y: SP_IN_10 },
        { c: GREEN, x: SP_IN_X, y: SP_IN_100 },
        { c: RED, x: SP_IN_X, y: SP_IN_5 },
        { c: MAGENTA, x: SP_IN_X, y: SP_IN_50 },
      ],
    },
  },
  {
    key: "SC",
    xDomain: [1300, 2152], xRange: [773.5, 1264.5], xEnd: 1264.5,
    xTicks: d3.range(1300, 2101, 100), xLabels: [1400, 1600, 1800, 2000],
    ftirTop: 584, ftirZero: 675, ftirTopLabel: null, ftirGap: null,
    ftir: [[SC_FTIR_X, SC_FTIR_Y]],
    mainTopVal: 5, mainTop: 692.3, mainZero: 879, axisTop: 690, axisBottom: 904, mainTopLabel: "0.005", zeroGap: [838, 859],
    yLabelX: 768, tickFont: 19.5,
    series: [
      { c: NAVY, s: [[SC_X1, SC_NAVY_A], [SC_X2, SC_NAVY_B], [SC_X3, SC_NAVY_C]] },
      { c: BLACK, s: [[SC_X1, SC_1_A], [SC_X2, SC_1_B], [SC_X3, SC_1_C]] },
      { c: RED, s: [[SC_X1, SC_5_4_A], [SC_X2, SC_5_4_B], [SC_X3, SC_5_4_C]] },
      { c: MAGENTA, s: [[SC_X1, SC_44_A], [SC_X2, SC_44_B], [SC_X3, SC_44_C]] },
      { c: LIME, s: [[SC_X1, SC_200_A], [SC_X2, SC_200_B], [SC_X3, SC_200_C]] },
      { c: BLUE, s: [[SC_X1, SC_10_6_A], [SC_X2, SC_10_6_B], [SC_X3, SC_10_6_C]] },
    ],
    title: { t: "4-SC", x: 780, y: 560, size: 24 },
    odLabel: { x: 756, y: 627 }, dodLabel: { x: 754, y: 785 },
    xTitle: { t: "Wavenumber", x: 1006, y: 965, size: 25 },
    legendTitle: { x: 912, y: 529, size: 20 },
    legendFont: 20,
    legend: [
      { c: BLACK, x1: 912, x2: 956, tx: 964, y: 548, t: "1" },
      { c: RED, x1: 991, x2: 1035, tx: 1041, y: 548, t: "5.4" },
      { c: BLUE, x1: 1086, x2: 1130, tx: 1138, y: 548, t: "10.6" },
      { c: MAGENTA, x1: 912, x2: 956, tx: 964, y: 574, t: "44" },
      { c: LIME, x1: 991, x2: 1035, tx: 1041, y: 574, t: "200" },
      { c: ORANGE, x1: 912, x2: 956, tx: 964, y: 627, t: "FTIR" },
    ],
    stars: [{ x: 848, y: 862, size: 29 }],
    tickMark: { w: 1725, v0: 0.14, v1: 0.2 },
    inset: {
      x0: 1066, x1: 1217, top: 688, bottom: 812, dom: [0, 8.5], rng: [775.8, 713.3],
      labels: [[8.5, "0.00085"], [0, "0.00000"]], minor: [], zeroLine: false,
      font: 11, yFont: 11, xlabY: 824,
      title: false,
      series: [
        { c: BLACK, x: SC_IN_X, y: SC_IN_1 },
        { c: RED, x: SC_IN_X, y: SC_IN_5_4 },
        { c: LIME, x: SC_IN_X, y: SC_IN_200 },
        { c: MAGENTA, x: SC_IN_X, y: SC_IN_44 },
        { c: BLUE, x: SC_IN_X, y: SC_IN_10_6 },
        { c: NAVY, x: SC_IN_X, y: SC_IN_NAVY },
      ],
    },
  },
];

function pairs(xs: number[], ys: number[]) {
  const n = Math.min(xs.length, ys.length);
  return d3.range(n).map((i) => [xs[i], ys[i]]);
}

function HLine({ y, xa, xb, gap, stroke, width }: any) {
  if (!gap) return <line x1={xa} y1={y} x2={xb} y2={y} stroke={stroke} strokeWidth={width} />;
  return (
    <g>
      <line x1={xa} y1={y} x2={gap[0]} y2={y} stroke={stroke} strokeWidth={width} />
      <line x1={gap[1]} y1={y} x2={xb} y2={y} stroke={stroke} strokeWidth={width} />
    </g>
  );
}

function CmTitle({ x, y, size, text, bold }: any) {
  return (
    <text x={x} y={y} fontSize={size} fontWeight={bold ? "bold" : "normal"} textAnchor="middle">
      {text} (cm
      <tspan fontSize={size * 0.55} dy={-size * 0.45}>-1</tspan>
      <tspan dy={size * 0.45}>)</tspan>
    </text>
  );
}

function Inset({ ins }: any) {
  const sx = d3.scaleLinear().domain([2000, 2150]).range([ins.x0, ins.x1]);
  const sy = d3.scaleLinear().domain(ins.dom).range(ins.rng);
  const line = d3.line<number[]>().x((d) => sx(d[0])).y((d) => sy(d[1]));
  const xt = d3.range(2000, 2151, 25);
  return (
    <g>
      {ins.zeroLine && <line x1={ins.x0} x2={ins.x1} y1={sy(0)} y2={sy(0)} stroke="#000" strokeWidth={1.2} />}
      {ins.series.map((s: any, i: number) => (
        <path key={i} d={line(pairs(s.x, s.y)) || ""} fill="none" stroke={s.c} strokeWidth={1.2} strokeLinejoin="round" />
      ))}
      <line x1={ins.x0} x2={ins.x0} y1={ins.top} y2={ins.bottom} stroke="#000" strokeWidth={1.1} />
      <line x1={ins.x0} x2={ins.x1} y1={ins.bottom} y2={ins.bottom} stroke="#000" strokeWidth={1.1} />
      {xt.map((t) => (
        <line key={t} x1={sx(t)} x2={sx(t)} y1={ins.bottom} y2={ins.bottom - (t % 50 === 0 ? 4 : 3)} stroke="#000" strokeWidth={1} />
      ))}
      {ins.labels.map((l: any) => (
        <g key={l[1]}>
          <line x1={ins.x0 - 4} x2={ins.x0} y1={sy(l[0])} y2={sy(l[0])} stroke="#000" strokeWidth={1} />
          <text x={ins.x0 - 4} y={sy(l[0]) + ins.yFont * 0.36} fontSize={ins.yFont} textAnchor="end">{l[1]}</text>
        </g>
      ))}
      {ins.minor.map((m: number) => (
        <line key={m} x1={ins.x0 - 3} x2={ins.x0} y1={sy(m)} y2={sy(m)} stroke="#000" strokeWidth={1} />
      ))}
      {[2000, 2050, 2100, 2150].map((t) => (
        <text key={t} x={sx(t)} y={ins.xlabY} fontSize={ins.font} textAnchor="middle">{t}</text>
      ))}
      {ins.title && (
        <g>
          <text transform={`translate(${ins.x0 - 13},226) rotate(-90)`} fontSize={17} textAnchor="middle">ΔO.D.</text>
          <CmTitle x={493} y={316} size={19} text="Wavenumbers" />
          <line x1={sx(2024)} x2={sx(2024)} y1={sy(3.85)} y2={sy(2.05)} stroke="#000" strokeWidth={1.2} />
          <path d={`M${sx(2024) - 4},${sy(2.05)} L${sx(2024) + 4},${sy(2.05)} L${sx(2024)},${sy(1.75)} Z`} fill="#000" />
        </g>
      )}
    </g>
  );
}

function Panel({ p }: any) {
  const sx = d3.scaleLinear().domain(p.xDomain).range(p.xRange);
  const syF = d3.scaleLinear().domain([0, 1]).range([p.ftirZero, p.ftirTop]);
  const syM = d3.scaleLinear().domain([0, p.mainTopVal]).range([p.mainZero, p.mainTop]);
  const x0 = p.xRange[0];
  const lineF = d3.line<number[]>().x((d) => sx(d[0])).y((d) => syF(d[1])).curve(d3.curveMonotoneX);
  const lineM = d3.line<number[]>().x((d) => sx(d[0])).y((d) => syM(d[1]));
  const tf = p.tickFont;
  return (
    <g>
      {/* FTIR panel */}
      <HLine y={p.ftirZero} xa={x0} xb={p.xEnd} gap={p.ftirGap} stroke="#000" width={1.4} />
      <line x1={x0} x2={x0} y1={p.ftirTop} y2={p.ftirZero} stroke="#000" strokeWidth={1.3} />
      <line x1={x0 - 6} x2={x0} y1={p.ftirTop} y2={p.ftirTop} stroke="#000" strokeWidth={1.3} />
      <line x1={x0 - 6} x2={x0} y1={p.ftirZero} y2={p.ftirZero} stroke="#000" strokeWidth={1.3} />
      <text x={p.yLabelX} y={p.ftirZero + tf * 0.36} fontSize={tf} textAnchor="end">0</text>
      {p.ftirTopLabel && (
        <text x={p.yLabelX} y={p.ftirTop + tf * 0.36} fontSize={tf} textAnchor="end">{p.ftirTopLabel}</text>
      )}
      {p.ftir.map((seg: any, i: number) => (
        <path key={i} d={lineF(pairs(seg[0], seg[1])) || ""} fill="none" stroke={ORANGE} strokeWidth={1.6} />
      ))}
      {p.tickMark && (
        <line x1={sx(p.tickMark.w)} x2={sx(p.tickMark.w)} y1={syF(p.tickMark.v0)} y2={syF(p.tickMark.v1)} stroke="#000" strokeWidth={1.2} />
      )}

      {/* transient panel */}
      <HLine y={p.mainZero} xa={x0} xb={p.xEnd} gap={p.zeroGap} stroke="#3a3a3a" width={1.8} />
      {p.series.map((s: any, i: number) => (
        <g key={i}>
          {s.s.map((seg: any, j: number) => (
            <path key={j} d={lineM(pairs(seg[0], seg[1])) || ""} fill="none" stroke={s.c} strokeWidth={1.6} strokeLinejoin="round" />
          ))}
        </g>
      ))}
      <line x1={x0} x2={x0} y1={p.axisTop} y2={p.axisBottom} stroke="#000" strokeWidth={1.3} />
      <line x1={x0} x2={p.xEnd} y1={p.axisBottom} y2={p.axisBottom} stroke="#000" strokeWidth={1.3} />
      <line x1={x0 - 6} x2={x0} y1={syM(p.mainTopVal)} y2={syM(p.mainTopVal)} stroke="#000" strokeWidth={1.3} />
      <line x1={x0 - 6} x2={x0} y1={syM(0)} y2={syM(0)} stroke="#000" strokeWidth={1.3} />
      <line x1={x0 - 6} x2={x0} y1={p.axisBottom} y2={p.axisBottom} stroke="#000" strokeWidth={1.3} />
      <text x={p.yLabelX} y={syM(p.mainTopVal) + tf * 0.36} fontSize={tf} textAnchor="end">{p.mainTopLabel}</text>
      <text x={p.yLabelX} y={syM(0) + tf * 0.36} fontSize={tf} textAnchor="end">0</text>
      {p.xTicks.map((t: number) => (
        <line key={t} x1={sx(t)} x2={sx(t)} y1={p.axisBottom} y2={p.axisBottom + 6} stroke="#000" strokeWidth={1.3} />
      ))}
      {p.xLabels.map((t: number) => (
        <text key={t} x={sx(t)} y={p.axisBottom + 27} fontSize={tf} textAnchor="middle">{t}</text>
      ))}

      {/* labels */}
      <text x={p.title.x} y={p.title.y} fontSize={p.title.size} fontWeight="bold">{p.title.t}</text>
      <text transform={`translate(${p.odLabel.x},${p.odLabel.y}) rotate(-90)`} fontSize={25} fontWeight="bold" textAnchor="middle">O.D.</text>
      <text transform={`translate(${p.dodLabel.x},${p.dodLabel.y}) rotate(-90)`} fontSize={25} fontWeight="bold" textAnchor="middle">ΔO.D.</text>
      <CmTitle x={p.xTitle.x} y={p.xTitle.y} size={p.xTitle.size} text={p.xTitle.t} bold />
      {p.stars.map((s: any, i: number) => (
        <text key={i} x={s.x} y={s.y} fontSize={s.size} fontWeight="bold" textAnchor="middle">*</text>
      ))}

      {/* legend */}
      <text x={p.legendTitle.x} y={p.legendTitle.y} fontSize={p.legendTitle.size}>Time Delay (ps)</text>
      {p.legend.map((l: any, i: number) => (
        <g key={i}>
          <line x1={l.x1} x2={l.x2} y1={l.y} y2={l.y} stroke={l.c} strokeWidth={1.8} />
          <text x={l.tx} y={l.y + p.legendFont * 0.36} fontSize={p.legendFont}>{l.t}</text>
        </g>
      ))}

      <Inset ins={p.inset} />
    </g>
  );
}

// grey watermark behind the panels: big rotated word over the right column,
// and the cut-off pieces at the right edge of the two lower panels
function Watermark() {
  return (
    <g>
      <defs>
        <clipPath id="wm-right">
          <rect x={640} y={0} width={634} height={970} />
        </clipPath>
      </defs>
      <g clipPath="url(#wm-right)">
        <text
          transform="translate(841,694) rotate(-59)"
          fontSize={305}
          fontWeight="bold"
          textAnchor="middle"
          fill={WM_GRAY}
        >
          {WATERMARK}
        </text>
      </g>
      <g fill={WM_GRAY}>
        <polygon points="572,800 604,800 640,748 640,706" />
        <polygon points="561,970 593,970 628,885 598,880" />
        <polygon points="1196,796 1228,796 1274,733 1274,692" />
        <polygon points="1206,970 1238,970 1268,885 1238,880" />
      </g>
    </g>
  );
}

export default function App() {
  return (
    <svg
      width={1274}
      height={970}
      viewBox="0 0 1274 970"
      style={{ position: "absolute", left: 0, top: 0, background: "#fff" }}
      fontFamily={SANS}
    >
      <rect x={0} y={0} width={1274} height={970} fill="#fff" />
      <Watermark />
      {PANELS.map((p) => (
        <Panel key={p.key} p={p} />
      ))}
    </svg>
  );
}
